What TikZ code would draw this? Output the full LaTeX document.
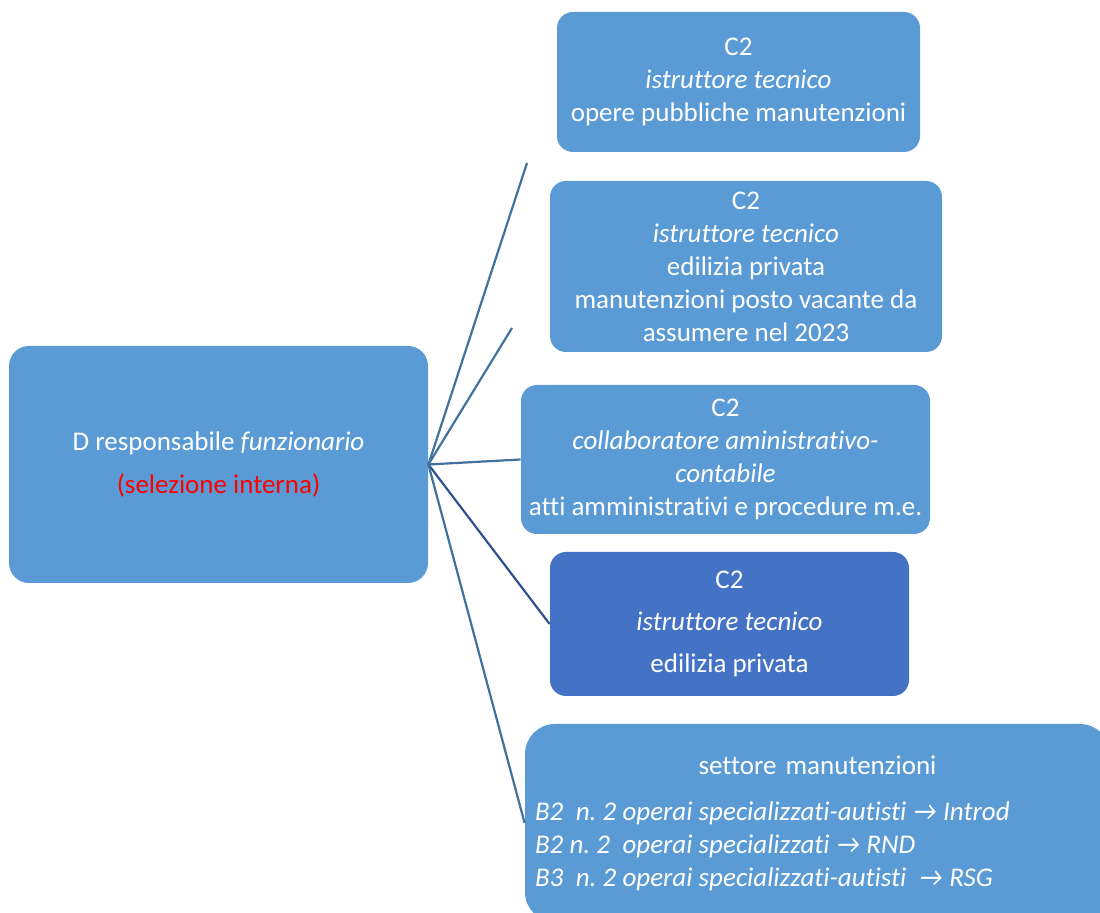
\documentclass[tikz,border=0pt]{standalone}
\usepackage{fontspec}
\setmainfont{Carlito}[Ligatures=NoCommon]
\usetikzlibrary{positioning}
\definecolor{boxblue}{HTML}{5B9BD5}
\definecolor{boxdark}{HTML}{4472C4}
\definecolor{linkblue}{HTML}{41719C}
\definecolor{linkdark}{HTML}{2F528F}
\frenchspacing

\begin{document}
\begin{tikzpicture}[x=0.5pt,y=-0.5pt,
   every node/.style={font=\fontsize{13.5}{16.5}\selectfont, text=white},
   box/.style={fill=boxblue, rounded corners=8pt, align=center, inner sep=0pt},
   link/.style={draw=linkblue, line width=1.1pt}]
   \useasboundingbox (0,0) rectangle (1100,913);
   % root
   \node[box, minimum width=209.5pt, minimum height=118.5pt, rounded corners=10pt] (D) at (218.5,464.5)
      {D responsabile \textit{funzionario}\\[5pt] \textcolor{red}{(selezione interna)}};
   % C2 boxes
   \node[box, minimum width=181.5pt, minimum height=70pt] (opere) at (738.5,82)
      {C2\\ \textit{istruttore tecnico}\\ opere pubbliche manutenzioni};
   \node[box, minimum width=196pt, minimum height=85.5pt] (edilizia) at (746,266.5)
      {C2\\ \textit{istruttore tecnico}\\ edilizia privata\\ manutenzioni posto vacante da\\ assumere nel 2023};
   \node[box, minimum width=204.5pt, minimum height=74.5pt] (atti) at (725.5,459.5)
      {C2\\ \textit{collaboratore aministrativo-}\\ \textit{contabile}\\ atti amministrativi e procedure m.e.};
   \node[box, fill=boxdark, minimum width=179.5pt, minimum height=72pt] (privata) at (729.5,624)
      {C2\\[4.5pt] \textit{istruttore tecnico}\\[4.5pt] edilizia privata};
   \node[box, minimum width=292.5pt, minimum height=99pt, text width=282.5pt, align=left, rounded corners=15pt] (settore) at (817.5,823)
      {\centering settore manutenzioni\par\vspace{6.5pt}\raggedright\itshape\spaceskip=0.23em\relax
       B2\ \ n. 2 operai specializzati-autisti → Introd\\
       B2 n. 2\ \ operai specializzati → RND\\
       B3\ \ n. 2 operai specializzati-autisti\ \ → RSG};
   % free ends
   \coordinate (c1) at (527,163);
   \coordinate (c2) at (512,328);
   \path[link]
   (D.east) edge (c1)
            edge (c2)
            edge (atti.west)
            edge[draw=linkdark] (privata.west)
            edge (settore.west);
\end{tikzpicture}
\end{document}
